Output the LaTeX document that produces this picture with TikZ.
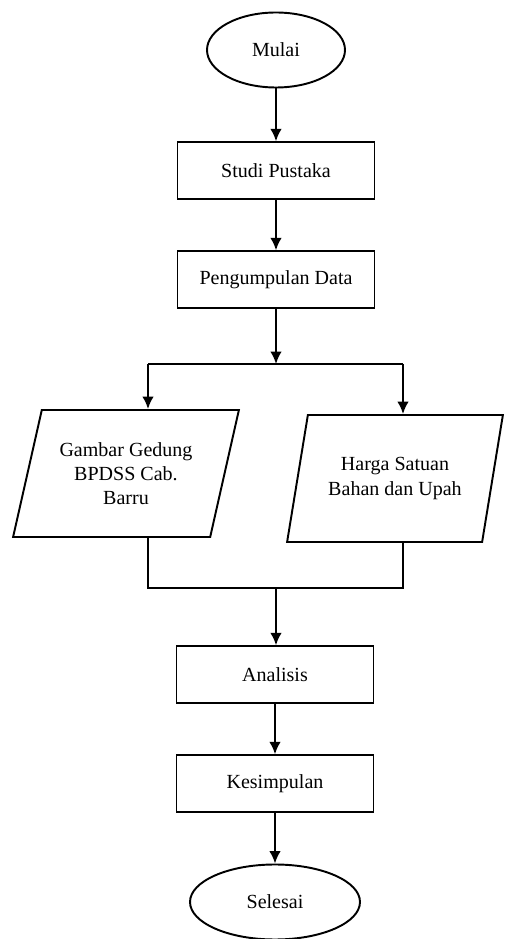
\documentclass[tikz,border=0pt]{standalone}
\usepackage{fontspec}
\setmainfont{Liberation Serif}
\usetikzlibrary{shapes.geometric,arrows.meta}

\begin{document}
\begin{tikzpicture}[
    font=\fontsize{11.4}{13.7}\selectfont,
    line width=1.1pt,
    terminal/.style={draw,ellipse,minimum width=#1,minimum height=1.5cm},
    process/.style={draw,rectangle,minimum width=3.94cm,minimum height=1.13cm},
    inout/.style={draw,trapezium,trapezium left angle=71,trapezium right angle=109,
      trapezium stretches=true,minimum height=2.54cm,align=center,inner sep=2pt},
    arrow/.style={-{Latex[length=7pt,width=6.5pt]}}]
      \useasboundingbox (0,0) rectangle (10.1,18.78);

      \draw (5.52,17.78) node[terminal=2.76cm] (mulai) {Mulai};
      \draw (5.52,15.37) node[process] (studi) {Studi Pustaka};
      \draw (5.52,13.19) node[process] (kumpul) {Pengumpulan Data};
      \draw (2.52,9.31) node[inout,minimum width=4.52cm] (gambar) {Gambar Gedung\\BPDSS Cab.\\Barru};
      \draw (7.90,9.21) node[inout,minimum width=4.36cm] (harga) {Harga Satuan\\Bahan dan Upah};
      \draw (5.50,5.29) node[process] (analisis) {Analisis};
      \draw (5.50,3.11) node[process] (simpul) {Kesimpulan};
      \draw (5.50,0.74) node[terminal=3.4cm] (selesai) {Selesai};

      \coordinate (split)  at (5.52,11.50);
      \coordinate (splitL) at (2.96,11.50);
      \coordinate (splitR) at (8.06,11.50);
      \coordinate (merge)  at (5.52,7.02);
      \coordinate (mergeL) at (2.96,7.02);
      \coordinate (mergeR) at (8.06,7.02);

      \draw[arrow] (mulai) -- (studi);
      \draw[arrow] (studi) -- (kumpul);
      \draw[arrow] (kumpul) -- (split);
      \draw (splitL) -- (splitR);
      \draw[arrow] (splitL) -- (splitL |- gambar.north);
      \draw[arrow] (splitR) -- (splitR |- harga.north);
      \draw (gambar.south -| mergeL) -- (mergeL) -- (mergeR) -- (harga.south -| mergeR);
      \draw[arrow] (merge) -- (merge |- analisis.north);
      \draw[arrow] (analisis) -- (simpul);
      \draw[arrow] (simpul) -- (selesai);
    \end{tikzpicture}
\end{document}
